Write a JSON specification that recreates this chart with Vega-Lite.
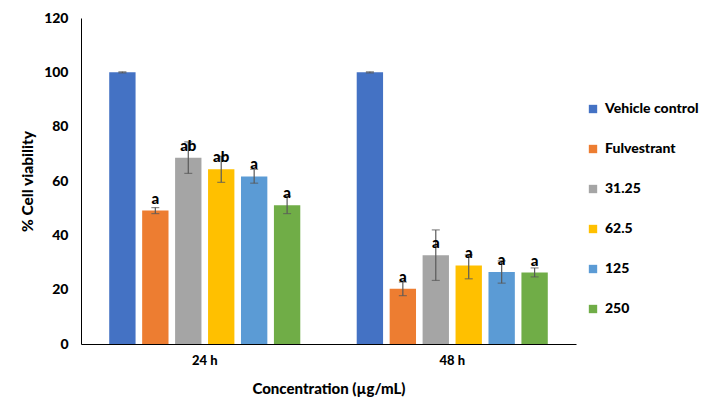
{
  "$schema": "https://vega.github.io/schema/vega-lite/v6.json",
  "width": 495,
  "height": 326,
  "autosize": {"type": "none"},
  "padding": {"left": 81, "top": 18, "right": 146, "bottom": 74},
  "background": "white",
  "config": {
    "view": {"stroke": null},
    "font": "Lato",
    "axis": {"labelFont": "Lato", "titleFont": "Lato", "labelFontWeight": 900, "titleFontWeight": 900, "labelColor": "#000000", "titleColor": "#000000"},
    "legend": {"labelFont": "Lato", "labelFontWeight": 900}
  },
  "data": {
    "values": [
      {"time": "24 h", "group": "Vehicle control", "mean": 100, "lo": 99.8, "hi": 100.2, "sig": ""},
      {"time": "24 h", "group": "Fulvestrant", "mean": 49.1, "lo": 48.0, "hi": 50.2, "sig": "a"},
      {"time": "24 h", "group": "31.25", "mean": 68.6, "lo": 62.8, "hi": 74.4, "sig": "ab"},
      {"time": "24 h", "group": "62.5", "mean": 64.3, "lo": 59.5, "hi": 69.1, "sig": "ab"},
      {"time": "24 h", "group": "125", "mean": 61.7, "lo": 59.2, "hi": 64.3, "sig": "a"},
      {"time": "24 h", "group": "250", "mean": 51.1, "lo": 48.0, "hi": 54.4, "sig": "a"},
      {"time": "48 h", "group": "Vehicle control", "mean": 100, "lo": 99.8, "hi": 100.2, "sig": ""},
      {"time": "48 h", "group": "Fulvestrant", "mean": 20.3, "lo": 17.8, "hi": 22.8, "sig": "a"},
      {"time": "48 h", "group": "31.25", "mean": 32.7, "lo": 23.4, "hi": 42.0, "sig": "a"},
      {"time": "48 h", "group": "62.5", "mean": 28.9, "lo": 24.0, "hi": 32.8, "sig": "a"},
      {"time": "48 h", "group": "125", "mean": 26.5, "lo": 22.4, "hi": 30.6, "sig": "a"},
      {"time": "48 h", "group": "250", "mean": 26.3, "lo": 24.7, "hi": 28.0, "sig": "a"}
    ]
  },
  "encoding": {
    "x": {
      "field": "time", "type": "nominal",
      "scale": {"paddingInner": 0.228, "paddingOuter": 0.114},
      "axis": {"title": "Concentration (µg/mL)", "labelAngle": 0, "ticks": false, "domainColor": "#000000", "domainWidth": 1, "labelFontSize": 13, "labelPadding": 10, "titleFontSize": 15, "titlePadding": 14}
    },
    "xOffset": {
      "field": "group", "type": "nominal",
      "sort": ["Vehicle control", "Fulvestrant", "31.25", "62.5", "125", "250"],
      "scale": {"paddingInner": 0.2, "paddingOuter": 0}
    }
  },
  "layer": [
    {
      "mark": {"type": "bar"},
      "encoding": {
        "y": {
          "field": "mean", "type": "quantitative",
          "scale": {"domain": [0, 120]},
          "axis": {"title": "% Cell viability", "values": [0, 20, 40, 60, 80, 100, 120], "grid": false, "ticks": false, "domainColor": "#000000", "domainWidth": 1, "labelFontSize": 14, "labelPadding": 13, "titleFontSize": 15.5, "titleX": -46}
        },
        "color": {
          "field": "group", "type": "nominal",
          "sort": ["Vehicle control", "Fulvestrant", "31.25", "62.5", "125", "250"],
          "scale": {"domain": ["Vehicle control", "Fulvestrant", "31.25", "62.5", "125", "250"], "range": ["#4472C4", "#ED7D31", "#A5A5A5", "#FFC000", "#5B9BD5", "#70AD47"]},
          "legend": {"title": null, "orient": "none", "legendX": 505, "legendY": 84, "symbolType": "square", "symbolSize": 70, "symbolStrokeWidth": 0, "labelFontSize": 14, "labelOffset": 5, "rowPadding": 26, "labelColor": "#000000"}
        }
      }
    },
    {
      "mark": {"type": "rule", "color": "#595959", "strokeWidth": 1.2},
      "encoding": {
        "y": {"field": "lo", "type": "quantitative"},
        "y2": {"field": "hi"}
      }
    },
    {
      "mark": {"type": "tick", "color": "#595959", "size": 8, "thickness": 1.2},
      "encoding": {"y": {"field": "lo", "type": "quantitative"}}
    },
    {
      "mark": {"type": "tick", "color": "#595959", "size": 8, "thickness": 1.2},
      "encoding": {"y": {"field": "hi", "type": "quantitative"}}
    },
    {
      "mark": {"type": "text", "baseline": "bottom", "dy": -4, "fontSize": 15, "fontWeight": 900, "color": "#000000"},
      "encoding": {
        "y": {"field": "mean", "type": "quantitative"},
        "text": {"field": "sig"}
      }
    }
  ]
}
